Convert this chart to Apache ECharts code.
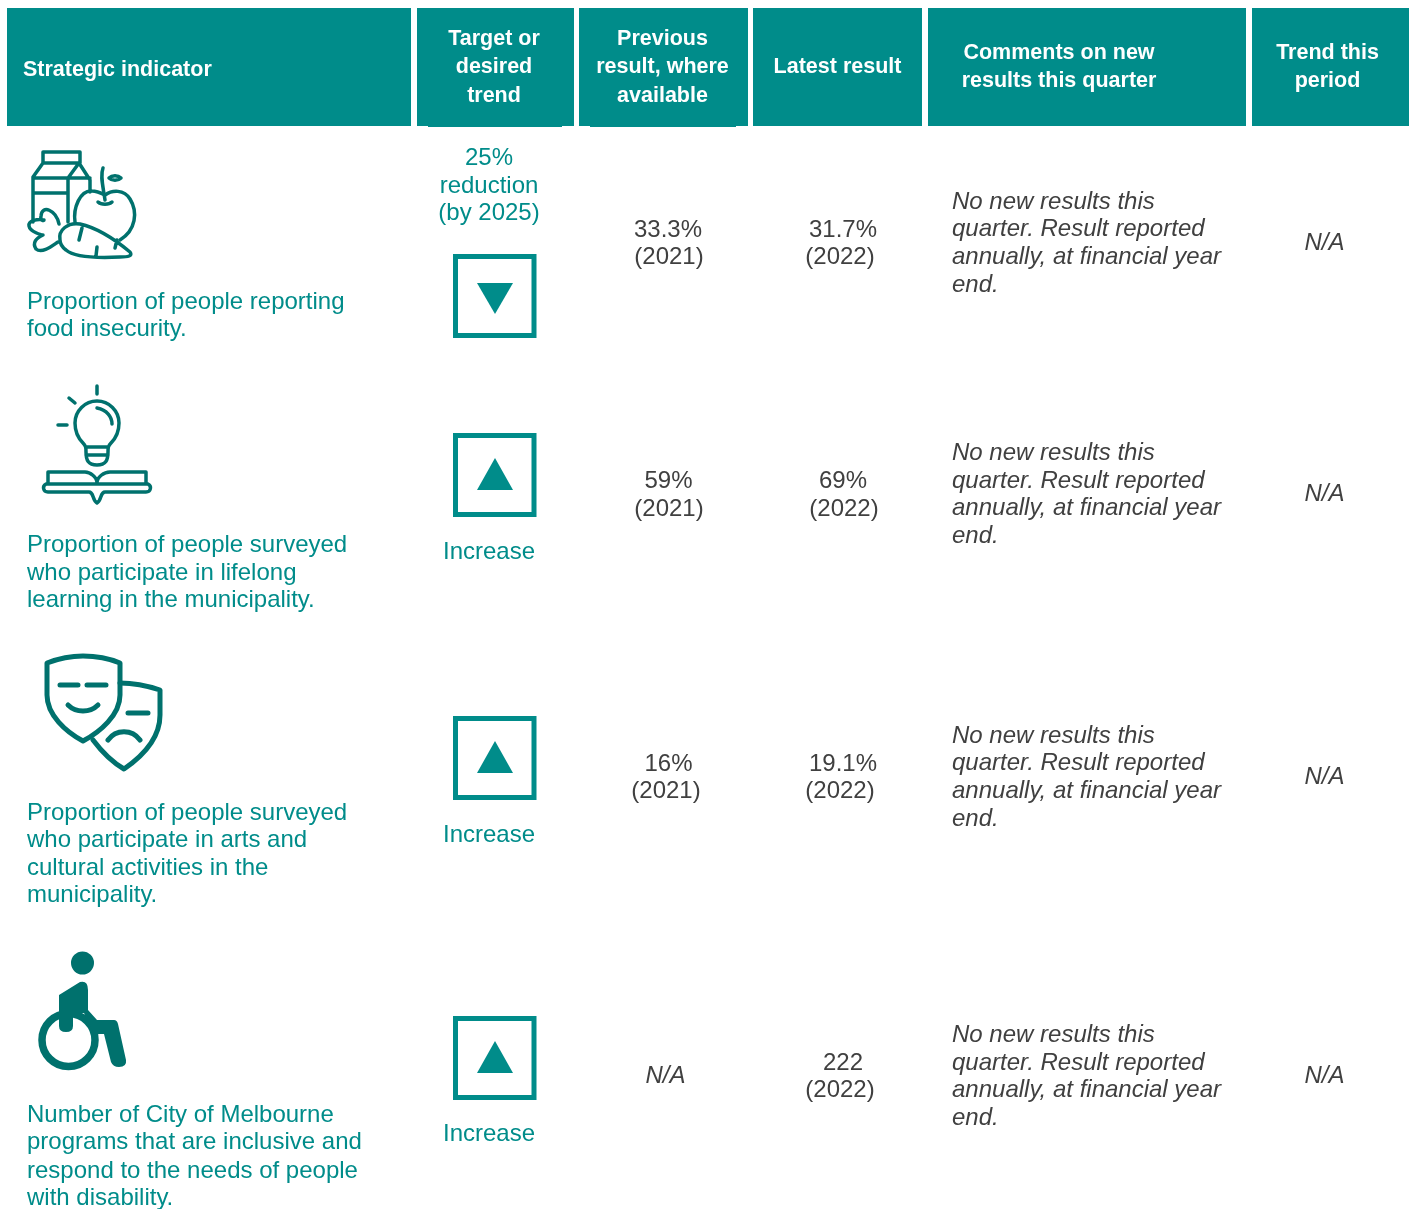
<!DOCTYPE html>
<html><head><meta charset="utf-8">
<style>html,body{margin:0;padding:0;background:#fff}#c{width:1415px;height:1209px}</style>
<script src="https://cdn.jsdelivr.net/npm/echarts@6/dist/echarts.min.js"></script>
</head><body><div id="c"></div>
<script>
// ---- data ----
const headers = [["Strategic indicator"],["Target or","desired","trend"],["Previous","result, where","available"],["Latest result"],["Comments on new","results this quarter"],["Trend this","period"]];
const indicators = [
 ["Proportion of people reporting","food insecurity."],
 ["Proportion of people surveyed","who participate in lifelong","learning in the municipality."],
 ["Proportion of people surveyed","who participate in arts and","cultural activities in the","municipality."],
 ["Number of City of Melbourne","programs that are inclusive and","respond to the needs of people","with disability."]];
const targetText = [["25%","reduction","(by 2025)"],["Increase"],["Increase"],["Increase"]];
const targetDirection = ["down","up","up","up"];
const previousResults = [["33.3%","(2021)"],["59%","(2021)"],["16%","(2021)"],["N/A"]];
const latestResults = [["31.7%","(2022)"],["69%","(2022)"],["19.1%","(2022)"],["222","(2022)"]];
const comments = ["No new results this","quarter. Result reported","annually, at financial year","end."];
const trends = ["N/A","N/A","N/A","N/A"];

// ---- layout and styles ----
const TEAL='#008c8a', ICON='#00716d', GREY='#404040';
const FF='"Liberation Sans", Arial, sans-serif';
const TEXT_DY=1;
const headRects=[[7,411],[417,574],[579,748],[753,922],[928,1246],[1252,1409]];
const headSliver=[[428,562],[590,736]];
const headX=[23,494,662.5,837.5,1059,1327.5];
const headY=[[69],[38,66,95],[38,66,95],[66],[52,80],[52,80]];
const indY=[[301,328],[544,572,599],[812,839,867,894],[1114,1141,1170,1197]];
const targetY=[[157,185,212],[551],[834],[1133]];
const boxTop=[255,434,717,1017];
const prevX=[[668,669],[668.5,669],[668.5,666],[665.5]];
const prevY=[[229,256],[480,508],[763,790],[1075]];
const lateX=[[843,840],[843,844],[843,840],[843,840]];
const lateY=[[229,256],[480,508],[763,790],[1062,1089]];
const comY=[[201,228,256,284],[452,480,507,535],[735,762,790,818],[1034,1062,1089,1117]];
const trendY=[242,493,776,1075];

const iconStroke=[
 ["M43 152H80V163H43Z M43 163L33 177V222 M33 178H68V222 M33 193H68 M68 178L79 163L90 180V192 M68 178H90",
  "M103 168C100 176 103 186 105 200 M98 202C101 205 109 205 112 202 M109 178C112 175 118 175 121 178C118 181 112 181 109 178Z",
  "M75 222C73 208 80 190 92 191C97 191 101 193 105 195C112 190 124 189 130 199C138 212 136 230 120 240",
  "M60 240C58 230 68 222 80 224C98 228 118 242 130 252C133 256 128 257 120 257C100 258 75 258 66 250C62 247 60 244 60 240Z M82 228L79 240 M97 247L96 256 M117 240L115 248",
  "M59 224C56 210 42 204 41 216C40 221 44 221 44 220C38 219 28 220 29 226C30 232 42 235 43 235C36 238 32 243 36 249C42 254 52 246 58 242"],
 ["M97 386V394 M69 398L75 403 M58 425H67",
  "M83 443C78 438 75 431 75 423C75 411 85 401 97 401C109 401 119 411 119 423C119 431 116 438 111 443C108 446 108 448 108 452C108 460 106 465 97 465C88 465 86 460 86 452C86 448 86 446 83 443Z M86 455H108 M86 447H108 M97 408C107 410 112 417 112 424",
  "M48 483V472H85C90 472 97 477 97 483C97 477 104 472 110 472H146V483",
  "M46 484H148C152 486 151 492 146 492H105C100 492 102 500 97 503C92 500 94 492 89 492H48C43 492 42 486 46 484Z"],
 ["M47 663C60 658 70 656 83 656C96 656 108 658 120 663V695C120 715 100 732 83 741C66 732 47 715 47 695Z",
  "M60 685H78 M87 685H106 M68 705C76 713 90 713 98 705",
  "M120 683C135 683 148 686 160 690V715C160 740 140 758 124 769C112 762 102 752 93 740",
  "M128 713H148 M108 740C116 729 132 729 140 740"]];
const wheelFill="M71 963A11.5 11.5 0 1 0 94 963A11.5 11.5 0 1 0 71 963Z M59 995L80 982Q88 980 88 990V1010L97 1020H114Q117 1020 118 1024L126 1060Q127 1067 119 1067Q113 1067 111 1062L104 1034H94L84 1013H73V1026Q73 1032 66 1032Q59 1032 59 1026Z";
const wheelRing="M42 1040A26.5 26.5 0 1 0 95 1040A26.5 26.5 0 1 0 42 1040Z";

function txt(text,x,y,font,fill,align){
  return {type:'text',style:{text,x,y:y+TEXT_DY,font,fill,align:align||'center',verticalAlign:'middle'},silent:true};
}
function lines(arr,xs,ys,font,fill,align){
  return arr.map((t,i)=>txt(t,Array.isArray(xs)?xs[i]:xs,ys[i],font,fill,align));
}
function stroke(d,w){return {type:'path',shape:{pathData:d},style:{fill:'none',stroke:ICON,lineWidth:w||3,lineCap:'round',lineJoin:'round'},silent:true};}

const F24='24px '+FF, I24='italic 24px '+FF, B22='bold 21.5px '+FF;

function renderHeader(params){
  const i=params.dataIndex;
  const [a,b]=headRects[i];
  const kids=[{type:'rect',shape:{x:a,y:8,width:b-a,height:118},style:{fill:TEAL},silent:true}];
  const s=i===1?headSliver[0]:i===2?headSliver[1]:null;
  if(s)kids.push({type:'rect',shape:{x:s[0],y:126,width:s[1]-s[0],height:1},style:{fill:TEAL},silent:true});
  return {type:'group',children:kids.concat(lines(headers[i],headX[i],headY[i],B22,'#fff',i===0?'left':'center'))};
}
function renderRow(params){
  const i=params.dataIndex, t=boxTop[i], up=targetDirection[i]==='up';
  const kids=[];
  if(i<3) iconStroke[i].forEach(d=>kids.push(stroke(d,i===2?5:3.5)));
  else {
    kids.push(stroke(wheelRing,7.5));
    kids.push({type:'path',shape:{pathData:wheelFill},style:{fill:ICON},silent:true});
  }
  kids.push(...lines(indicators[i],27,indY[i],F24,TEAL,'left'));
  kids.push(...lines(targetText[i],489,targetY[i],F24,TEAL));
  kids.push({type:'rect',shape:{x:455.5,y:t+1.5,width:78.5,height:79},style:{fill:'#fff',stroke:TEAL,lineWidth:5},silent:true});
  kids.push({type:'polygon',shape:{points:up?[[477,t+56],[513,t+56],[495,t+24]]:[[477,t+28],[513,t+28],[495,t+59]]},style:{fill:TEAL},silent:true});
  const prevFont=previousResults[i][0]==='N/A'?I24:F24;
  kids.push(...lines(previousResults[i],prevX[i],prevY[i],prevFont,GREY));
  kids.push(...lines(latestResults[i],lateX[i],lateY[i],F24,GREY));
  kids.push(...lines(comments,952,comY[i],I24,GREY,'left'));
  kids.push(txt(trends[i],1324.5,trendY[i],I24,GREY));
  return {type:'group',children:kids};
}
const chart=echarts.init(document.getElementById('c'),null,{renderer:'canvas'});
chart.setOption({
  animation:false,
  backgroundColor:'#fff',
  series:[
    {type:'custom',coordinateSystem:'none',data:headers.map((h,i)=>[i]),renderItem:renderHeader,silent:true},
    {type:'custom',coordinateSystem:'none',data:indicators.map((h,i)=>[i]),renderItem:renderRow,silent:true}
  ]
});
</script></body></html>
